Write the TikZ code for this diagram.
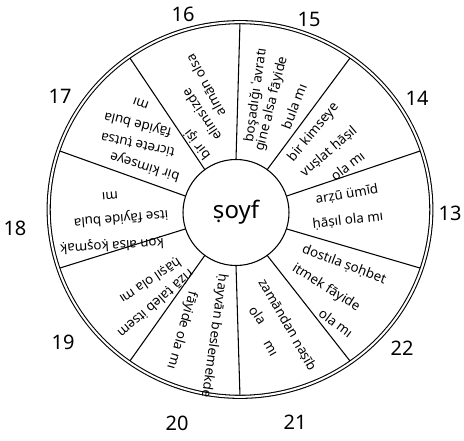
\documentclass[tikz,border=0pt]{standalone}
\usepackage{fontspec}
\setmainfont{Noto Sans}
\usetikzlibrary{shapes.geometric}
\begin{document}
\begin{tikzpicture}[x=0.75pt,y=-0.75pt,
  ln/.style={line width=0.8pt},
  txt/.style={font=\fontsize{10}{12}\selectfont, inner sep=0pt, text height=7.5pt, text depth=2.3pt},
  num/.style={font=\fontsize{15}{18}\selectfont, inner sep=0pt},
]
\useasboundingbox (0,0) rectangle (464,441);
\fill[white] (0,0) rectangle (464,441);
% rim and hub
\node[ellipse, draw, double, double distance=1.5pt, line width=0.8pt,
      minimum width=287pt, minimum height=281pt, inner sep=0pt, outer sep=0pt] (rim) at (240,209.5) {};
\node[circle, draw, fill=white, line width=0.8pt, minimum size=79.5pt, inner sep=0pt, outer sep=0pt,
      font=\fontsize{18}{21}\selectfont] (hub) at (236,212.5) {ṣoyf};
% dividers
\foreach \a in {90,54,18,-18,-54,-90,-126,-162,162,126}
  \draw[ln, shorten >=1.3pt] (hub.\a) -- (rim.\a);
% sector 15
\node[txt, rotate=82] (t15a) at (256,95) {boşadığı ʿavratı};
\node[txt, rotate=76] (t15b) at (272,104) {gine alsa fāyide};
\node[txt, rotate=69] (t15c) at (296,107) {bula mı};
% sector 14
\node[txt, rotate=50.4] (t14a) at (313.5,132.5) {bir kimseye};
\node[txt, rotate=40.5] (t14b) at (329,152) {vuṣlat ḥāṣıl};
\node[txt, rotate=37.5] (t14c) at (348.5,167) {ola mı};
% sector 13
\node[txt, rotate=10] (t13a) at (347,195) {arẓū ümīd};
\node[txt, rotate=6.5] (t13b) at (348,221) {ḥāṣıl ola mı};
% sector 22
\node[txt, rotate=-21] (t22a) at (344,265) {dostıla ṣoḥbet};
\node[txt, rotate=-32] (t22b) at (326,288) {itmek fāyide};
\node[txt, rotate=-37] (t22c) at (335,324) {ola mı};
% sector 21
\node[txt, rotate=-60] (t21a) at (287,325) {zamāndan naṣīb};
\node[txt, rotate=-56] (t21b) at (257,316) {ola};
\node[txt, rotate=-60] (t21c) at (270,349) {mı};
% sector 20
\node[txt, rotate=-98] (t20a) at (214,336) {ḥayvān beslemekde};
\node[txt, rotate=-106] (t20b) at (182,330) {fāyide ola mı};
% sector 19
\node[txt, rotate=221] (t19a) at (155,303) {rıżā ṭaleb itsem};
\node[txt, rotate=214] (t19b) at (150,280) {ḥāṣıl ola mı};
% sector 18
\node[txt, rotate=183.5] (t18a) at (112,245) {ḳon alsa ḳoşmaḳ};
\node[txt, rotate=185] (t18b) at (121,218) {itse fāyide bula};
\node[txt, rotate=185] (t18c) at (110,196) {mı};
% sector 17
\node[txt, rotate=163] (t17a) at (145,166) {bir kimseye};
\node[txt, rotate=168] (t17b) at (138,144) {ticrete ṭutsa};
\node[txt, rotate=166] (t17c) at (138,124) {fāyide bula};
\node[txt, rotate=160] (t17d) at (141,103) {mı};
% sector 16
\node[txt, rotate=128] (t16a) at (198,144) {bir işi};
\node[txt, rotate=124] (t16b) at (203,114) {elimsizde};
\node[txt, rotate=118] (t16c) at (207,85) {almān olsa};
% numbers
\node[num] (n16) at (183,14) {16};
\node[num] (n15) at (309,19) {15};
\node[num] (n14) at (417,98) {14};
\node[num] (n13) at (450,213) {13};
\node[num] (n22) at (402,348) {22};
\node[num] (n21) at (295,422) {21};
\node[num] (n20) at (177,423) {20};
\node[num] (n19) at (63,342) {19};
\node[num] (n18) at (15,228) {18};
\node[num] (n17) at (60,96) {17};
\end{tikzpicture}
\end{document}
